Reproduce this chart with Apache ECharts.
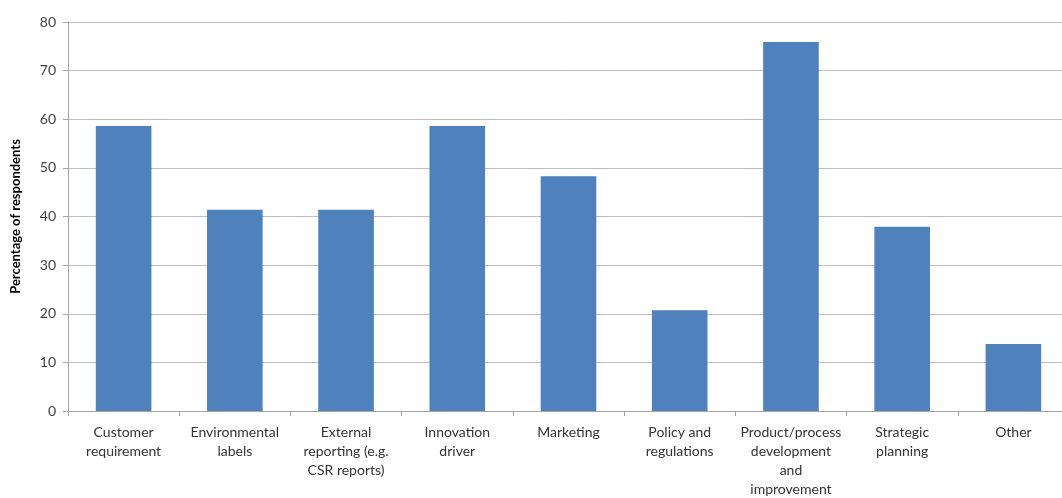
<!DOCTYPE html>
<html><head><meta charset="utf-8">
<script src="https://cdn.jsdelivr.net/npm/echarts@6/dist/echarts.min.js"></script>
<style>html,body{margin:0;padding:0;background:#fff}#c{width:1062px;height:498px}</style>
</head><body><div id="c"></div>
<script>
const categories = ["Customer\nrequirement","Environmental\nlabels","External\nreporting (e.g.\nCSR reports)","Innovation\ndriver","Marketing","Policy and\nregulations","Product/process\ndevelopment\nand\nimprovement","Strategic\nplanning","Other"];
const values = [58.6, 41.4, 41.4, 58.6, 48.3, 20.7, 75.9, 37.9, 13.8];
const yTicks = {min: 0, max: 80, interval: 10};
const yTitle = "Percentage of respondents";

const chart = echarts.init(document.getElementById('c'));
chart.setOption({
  animation: false,
  backgroundColor: '#fff',
  grid: {left: 68, top: 22, width: 1001, height: 389, containLabel: false, outerBoundsMode: 'none'},
  xAxis: {
    type: 'category', data: categories,
    axisLine: {lineStyle: {color: '#a6a6a6'}},
    axisTick: {show: true, alignWithLabel: false, length: 5, lineStyle: {color: '#a6a6a6'}},
    axisLabel: {interval: 0, color: '#333', fontFamily: 'Lato', fontSize: 14, lineHeight: 19, margin: 12}
  },
  yAxis: {
    type: 'value', min: yTicks.min, max: yTicks.max, interval: yTicks.interval,
    name: yTitle, nameLocation: 'middle', nameGap: 46, nameRotate: 90,
    nameTextStyle: {fontFamily: 'Lato', fontSize: 13, fontWeight: 'bold', color: '#000'},
    axisLine: {show: true, lineStyle: {color: '#a6a6a6'}},
    axisTick: {show: true, length: 5, lineStyle: {color: '#a6a6a6'}},
    axisLabel: {color: '#404040', fontFamily: 'Lato', fontSize: 14, margin: 12},
    splitLine: {lineStyle: {color: '#bfbfbf'}}
  },
  series: [{
    type: 'bar', data: values, barCategoryGap: '50%',
    itemStyle: {color: '#4f81bd'}
  }]
});
</script></body></html>
